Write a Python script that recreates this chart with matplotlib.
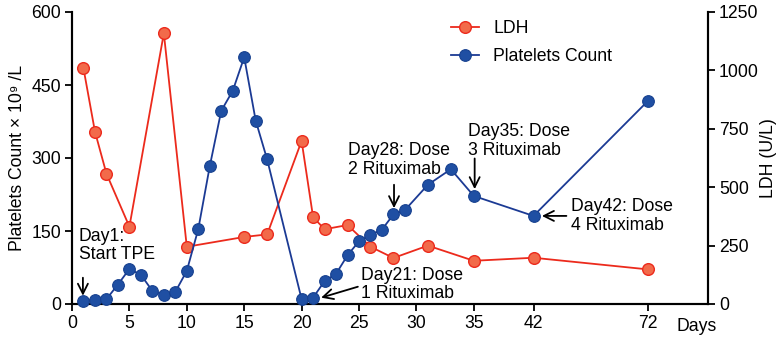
import numpy as np
import matplotlib
matplotlib.use("Agg")
import matplotlib.pyplot as plt

plt.rcParams['font.family'] = ['Liberation Sans', 'DejaVu Sans']

# ---- data ----
plt_days = [1, 2, 3, 4, 5, 6, 7, 8, 9, 10, 11, 12, 13, 14, 15, 16, 17,
            20, 21, 22, 23, 24, 25, 26, 27, 28, 29, 31, 33, 35, 42, 72]
platelets = [7, 8, 10, 40, 72, 60, 27, 19, 25, 68, 154, 283, 397, 438, 507, 377, 297,
             10, 13, 47, 62, 100, 129, 142, 153, 184, 193, 245, 277, 222, 181, 418]

ldh_days = [1, 2, 3, 5, 8, 10, 15, 17, 20, 21, 22, 24, 26, 28, 31, 35, 42, 72]
ldh = [1009, 738, 558, 331, 1159, 245, 287, 298, 698, 372, 320, 338, 245, 197, 250, 185, 198, 148]

xticks = [0, 5, 10, 15, 20, 25, 30, 35, 42, 72]
left_ticks = [0, 150, 300, 450, 600]
right_ticks = [0, 250, 500, 750, 1000, 1250]

# piecewise axis (segmented day axis)
bp_days = [0, 35, 42, 72, 120]
bp_pos = [0, 35, 40.2, 50.2, 66.2]

def fwd(x):
    return np.interp(x, bp_days, bp_pos)

def inv(x):
    return np.interp(x, bp_pos, bp_days)

FS = 12.7
fig = plt.figure(figsize=(7.8, 3.41), dpi=100)
ax = fig.add_axes([72 / 780, 1 - 304 / 341, 636 / 780, 292 / 341])
ax2 = ax.twinx()

ax.set_xscale('function', functions=(fwd, inv))
ax.set_xlim(0, 87.6)
ax.set_ylim(0, 600)
ax2.set_ylim(0, 1250)

blue_line = '#1b3a94'
blue_fill = '#1f4fa3'
red_line = '#ec2a1c'
red_fill = '#f26a4a'

l2, = ax2.plot(ldh_days, ldh, '-o', color=red_line, lw=1.3, ms=8.4,
               mfc=red_fill, mec=red_line, mew=1.0, clip_on=False, zorder=3,
               label='LDH')
l1, = ax.plot(plt_days, platelets, '-o', color=blue_line, lw=1.3, ms=8.4,
              mfc=blue_fill, mec='#16408f', mew=0.8, clip_on=False, zorder=4,
              label='Platelets Count')
ax.set_zorder(ax2.get_zorder() + 1)
ax.patch.set_visible(False)

for a in (ax, ax2):
    a.spines['top'].set_visible(False)
    a.spines['left'].set_linewidth(1.5)
    a.spines['right'].set_linewidth(1.5)
    a.spines['bottom'].set_linewidth(1.5)
    a.tick_params(width=1.3, length=5, labelsize=FS, colors='black', pad=3)

ax.set_xticks(xticks)
ax.set_xticklabels([str(t) for t in xticks])
ax.set_yticks(left_ticks)
ax2.set_yticks(right_ticks)
ax.minorticks_off()

ax.set_ylabel('Platelets Count × 10⁹ /L', fontsize=FS, labelpad=4)
ax2.set_ylabel('LDH (U/L)', fontsize=FS, labelpad=1)

ax.text(0.951, -0.077, 'Days', transform=ax.transAxes, fontsize=FS,
        ha='left', va='center')

leg = fig.legend(handles=[l2, l1], loc='upper left',
                 bbox_to_anchor=(451 / 780, 1 - 20 / 341), frameon=False,
                 fontsize=FS, handlelength=1.6, handletextpad=0.8,
                 labelspacing=0.62, borderpad=0, borderaxespad=0)

arrow = dict(arrowstyle='->', color='black', lw=1.3,
             mutation_scale=18, shrinkA=0, shrinkB=0)

def note(txt, tx, ty, tip, tail):
    ax.text(tx, ty, txt, fontsize=FS, ha='left', va='top', linespacing=1.1)
    ax.annotate('', xy=tip, xytext=tail, arrowprops=arrow)

note('Day1:\nStart TPE', 0.6, 156, (0.95, 17), (0.95, 54))
note('Day21: Dose\n1 Rituximab', 25.2, 77, (21.7, 13), (24.9, 35.5))
note('Day28: Dose\n2 Rituximab', 24.0, 332, (28.05, 197), (28.05, 245))
note('Day35: Dose\n3 Rituximab', 34.5, 371, (35.1, 236), (35.1, 299))
note('Day42: Dose\n4 Rituximab', 51.9, 217, (44.2, 181), (50.6, 181))

fig.savefig('out.png', dpi=100)
